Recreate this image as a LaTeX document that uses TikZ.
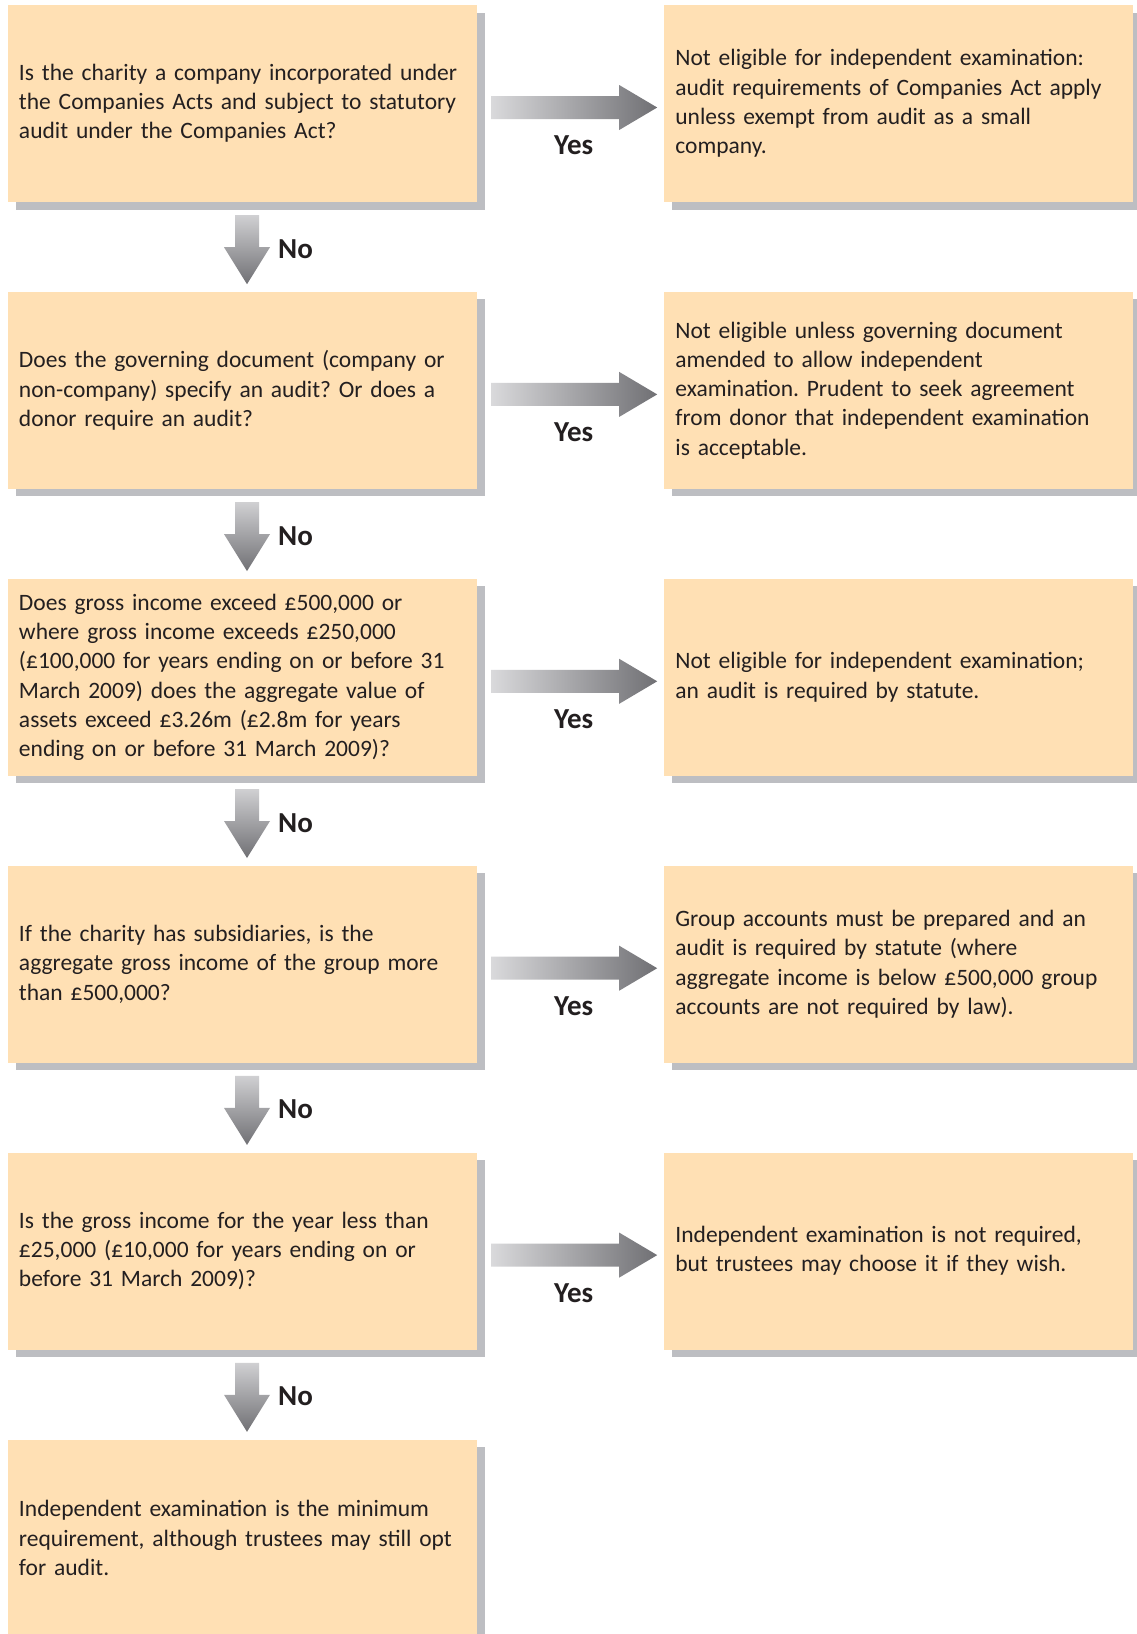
\documentclass[tikz,border=0pt]{standalone}
\usepackage{fontspec}
\setmainfont{Carlito}
\usetikzlibrary{positioning,calc,shadows}

\definecolor{boxfill}{HTML}{FFE0B4}
\definecolor{boxshadow}{HTML}{BDBEC2}
\definecolor{inktext}{HTML}{231F20}
\definecolor{arrowlight}{HTML}{E2E2E4}
\definecolor{arrowdark}{HTML}{707074}

\newcommand{\boxfont}{\fontsize{23.5}{29.2}\selectfont\frenchspacing\hyphenpenalty 10000\relax}

\tikzset{
  qbox/.style={fill=boxfill, text=inktext, minimum width=469pt, minimum height=197pt,
    text width=447pt, inner xsep=11pt, inner ysep=0pt, align=left, font=\boxfont,
    drop shadow={shadow xshift=7.5pt, shadow yshift=-7.5pt, fill=boxshadow, opacity=1}},
  answer/.style={font=\fontsize{29}{29}\selectfont\bfseries, text=inktext, inner sep=0pt},
  % block arrow to the right, from box to box
  yes arrow/.style={left color=arrowlight, right color=arrowdark, to path={
    ($(\tikztostart)+(14,-7.5)$) -- ($(\tikztotarget)+(-45,-7.5)$)
    -- ($(\tikztotarget)+(-45,-18.5)$) -- ($(\tikztotarget)+(-7,4)$)
    -- ($(\tikztotarget)+(-45,26.5)$) -- ($(\tikztotarget)+(-45,15.5)$)
    -- ($(\tikztostart)+(14,15.5)$) -- cycle}},
  % block arrow downwards, from box to box
  no arrow/.style={top color=arrowlight, bottom color=arrowdark, to path={
    ($(\tikztostart)+(-7.5,13)$) -- ($(\tikztotarget)+(-7.5,-44.5)$)
    -- ($(\tikztotarget)+(-18.5,-44.5)$) -- ($(\tikztotarget)+(4.5,-7.5)$)
    -- ($(\tikztotarget)+(27.5,-44.5)$) -- ($(\tikztotarget)+(16.5,-44.5)$)
    -- ($(\tikztostart)+(16.5,13)$) -- cycle}},
}

\begin{document}
\begin{tikzpicture}[x=1pt, y=-1pt, node distance=89.5pt]
        % Page area
        \fill[white] (0,0) rectangle (1137,1634);
        \useasboundingbox (0,0) rectangle (1137,1634);

        % Questions, left column
        \node[qbox] (q1) at (242.5,103.5) {Is the charity a company incorporated under\\the Companies Acts and subject to statutory\\audit under the Companies Act?};
        \node[qbox, below=of q1] (q2) {Does the governing document (company or\\non-company) specify an audit? Or does a\\donor require an audit?};
        \node[qbox, below=of q2] (q3) {Does gross income exceed £500,000 or\\where gross income exceeds £250,000\\(£100,000 for years ending on or before 31\\March 2009) does the aggregate value of\\assets exceed £3.26m (£2.8m for years\\ending on or before 31 March 2009)?};
        \node[qbox, below=of q3] (q4) {If the charity has subsidiaries, is the\\aggregate gross income of the group more\\than £500,000?};
        \node[qbox, below=of q4] (q5) {Is the gross income for the year less than\\£25,000 (£10,000 for years ending on or\\before 31 March 2009)?};
        \node[qbox, below=of q5] (q6) {Independent examination is the minimum\\requirement, although trustees may still opt\\for audit.};

        % Outcomes, right column
        \node[qbox, right=187pt of q1] (r1) {Not eligible for independent examination:\\audit requirements of Companies Act apply\\unless exempt from audit as a small\\company.};
        \node[qbox, right=187pt of q2] (r2) {Not eligible unless governing document\\amended to allow independent\\examination. Prudent to seek agreement\\from donor that independent examination\\is acceptable.};
        \node[qbox, right=187pt of q3] (r3) {Not eligible for independent examination;\\an audit is required by statute.};
        \node[qbox, right=187pt of q4] (r4) {Group accounts must be prepared and an\\audit is required by statute (where\\aggregate income is below £500,000 group\\accounts are not required by law).};
        \node[qbox, right=187pt of q5] (r5) {Independent examination is not required,\\but trustees may choose it if they wish.};

        % Yes arrows
        \foreach \i in {1,...,5} {
            \path[yes arrow] (q\i.east) to (r\i.west);
            \node[answer] (yes\i) at ($(q\i.east)!0.5!(r\i.west)+(3,42)$) {Yes};
        }

        % No arrows
        \foreach \i/\j in {1/2,2/3,3/4,4/5,5/6} {
            \path[no arrow] (q\i.south) to (q\j.north);
            \node[answer, anchor=west] (no\i) at ($(q\i.south)!0.5!(q\j.north)+(35.5,2)$) {No};
        }
\end{tikzpicture}
\end{document}
